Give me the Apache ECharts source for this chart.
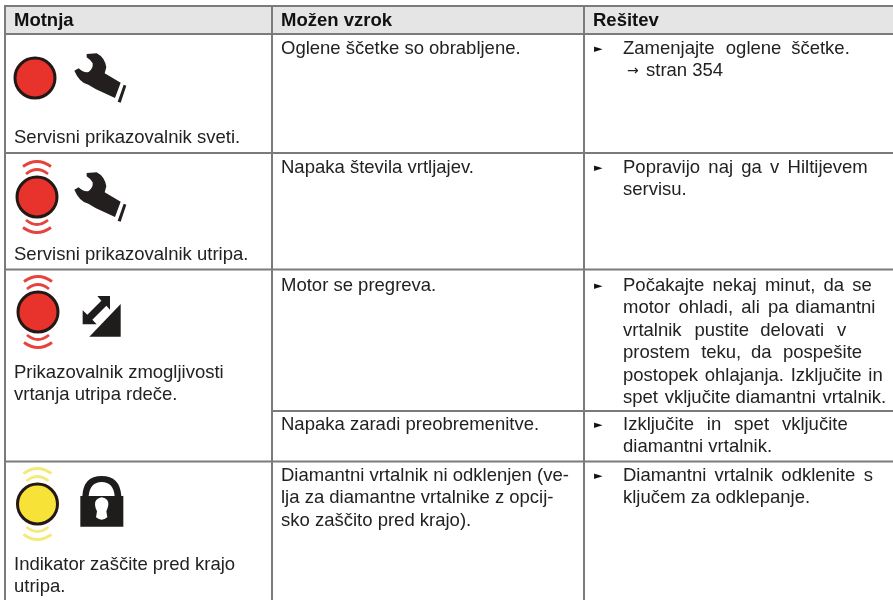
<!DOCTYPE html>
<html>
<head>
<meta charset="utf-8">
<style>
html,body{margin:0;padding:0;background:#fff}
#main{width:893px;height:600px}
</style>
<script src="https://cdn.jsdelivr.net/npm/echarts@6/dist/echarts.min.js"></script>
</head>
<body>
<div id="main"></div>
<script>
// table content
var headers = ['Motnja', 'Možen vzrok', 'Rešitev'];
var faultLines = [
  ['Servisni prikazovalnik sveti.'],
  ['Servisni prikazovalnik utripa.'],
  ['Prikazovalnik zmogljivosti', 'vrtanja utripa rdeče.'],
  ['Indikator zaščite pred krajo', 'utripa.']
];
var causeLines = [
  ['Oglene ščetke so obrabljene.'],
  ['Napaka števila vrtljajev.'],
  ['Motor se pregreva.'],
  ['Napaka zaradi preobremenitve.'],
  ['Diamantni vrtalnik ni odklenjen (ve-', 'lja za diamantne vrtalnike z opcij-', 'sko zaščito pred krajo).']
];
var fixLines = [
  ['Zamenjajte oglene ščetke.'],
  ['Popravijo naj ga v Hiltijevem', 'servisu.'],
  ['Počakajte nekaj minut, da se', 'motor ohladi, ali pa diamantni', 'vrtalnik pustite delovati v', 'prostem teku, da pospešite', 'postopek ohlajanja. Izključite in', 'spet vključite diamantni vrtalnik.'],
  ['Izključite in spet vključite', 'diamantni vrtalnik.'],
  ['Diamantni vrtalnik odklenite s', 'ključem za odklepanje.']
];
var pageRef = 'stran 354';

// layout
var colX = [5, 272, 584];
var rowY = [6, 34, 153, 269.5, 461.5];
var subRowY = 411;
var faultY = [138, 255, 373, 565];
var causeY = [49, 168, 286, 425, 476];
var fixY = [49, 168, 286, 425, 476];
var fixEnd = [[850], [868, null], [872, 876, 846, 862, 883, 886], [847, null], [873, null]];
var lineH = 22.4;
var font = '"Liberation Sans", Arial, sans-serif';
var fontSize = 18.5;
var ink = '#222222';
var rule = '#7b7b7b';

var ctx = document.createElement('canvas').getContext('2d');

// stretch the gaps of a justified line with hair spaces
function justify(line, width) {
  ctx.font = fontSize + 'px "Liberation Sans"';
  var words = line.split(' ');
  var extra = width - ctx.measureText(line).width;
  var hair = ctx.measureText('\u200a').width;
  if (words.length < 2 || extra <= 0 || !hair) return line;
  var out = words[0], used = 0;
  for (var i = 1; i < words.length; i++) {
    var want = Math.round(extra * i / (words.length - 1) / hair);
    out += ' ' + new Array(want - used + 1).join('\u200a') + words[i];
    used = want;
  }
  return out;
}

var els = [];
function line(x1, y1, x2, y2) {
  els.push({type: 'line', shape: {x1: x1, y1: y1, x2: x2, y2: y2}, style: {stroke: rule, lineWidth: 2}});
}
function txt(s, x, y, bold) {
  els.push({type: 'text', x: x, y: y, style: {
    text: s, fill: bold ? '#111111' : ink, font: (bold ? 'bold ' : '') + fontSize + 'px ' + font,
    textAlign: 'left', verticalAlign: 'middle'
  }});
}
// shape given in 3x coordinates
function glyph(d, x, y, fill, z) {
  els.push({type: 'path', x: x, y: y, scaleX: 1 / 3, scaleY: 1 / 3, z2: z || 1,
    shape: {pathData: d}, style: {fill: fill}});
}
function lamp(cx, cy, fill, band, blink) {
  els.push({type: 'circle', shape: {cx: cx, cy: cy, r: 20}, style: {fill: fill, stroke: '#231815', lineWidth: 3}});
  if (!blink) return;
  [[-30.5, -40.5], [-23, -32], [30.5, 40.5], [23, 32]].forEach(function (a) {
    var w = Math.abs(a[0]) > 25 ? 14 : 11;
    els.push({type: 'path', shape: {
      pathData: 'M' + (cx - w) + ' ' + (cy + a[0]) + 'Q' + cx + ' ' + (cy + a[1]) + ' ' + (cx + w) + ' ' + (cy + a[0])
    }, style: {fill: 'none', stroke: band, lineWidth: 2.8}});
  });
}

var wrench = 'M80 42L110 40Q134 52 139 82L134 100L182 128L165 174L108 148L85 134Q58 128 43 92L56 85Q72 100 86 96Q100 86 98 70Q90 58 80 52Z' +
  'M191 134L199 137L182 188L173 185Z';
var arrows = 'M330 348L292 348L304 362L262 404L248 391L248 433L290 433L277 419L319 377L330 389Z';
var wedge = 'M362 372L362 470L268 470Z';
var lock = 'M241 288L247 288Q250 228 305 228Q360 228 364 288L370 288L370 380L241 380Z';
var hoop = 'M266 288L344 288Q340 246 305 246Q270 246 266 288Z';
var keyhole = 'M305 292Q328 296 325 316Q322 328 319 334L322 352Q305 366 288 352L291 334Q286 326 285 314Q284 296 305 292Z';

// header band and rules
els.push({type: 'rect', shape: {x: 5, y: 6, width: 888, height: 28}, style: {fill: '#e5e5e5'}});
rowY.forEach(function (y) { line(5, y, 893, y); });
line(colX[1], subRowY, 893, subRowY);
colX.forEach(function (x) { line(x, 5, x, 600); });

var headX = [14, 281, 593];
headers.forEach(function (h, i) { txt(h, headX[i], 21, true); });

faultLines.forEach(function (ls, r) {
  ls.forEach(function (s, i) { txt(s, 14, faultY[r] + i * lineH); });
});
causeLines.forEach(function (ls, r) {
  ls.forEach(function (s, i) { txt(s, 281, causeY[r] + i * lineH); });
});
fixLines.forEach(function (ls, r) {
  els.push({type: 'text', x: 594, y: fixY[r], style: {text: '\u25ba', fill: '#111111',
    font: '11px "DejaVu Sans"', textAlign: 'left', verticalAlign: 'middle'}});
  ls.forEach(function (s, i) {
    var end = fixEnd[r][i];
    txt(end ? justify(s, end - 623) : s, 623, fixY[r] + i * lineH);
  });
});
els.push({type: 'text', x: 627, y: fixY[0] + lineH, style: {text: '\u2192', fill: ink,
  font: '14px "DejaVu Sans"', textAlign: 'left', verticalAlign: 'middle'}});
txt(pageRef, 646, fixY[0] + lineH);

// status icons
lamp(35, 78, '#e7332c', '#e5433c', false);
glyph(wrench, 60, 40, '#231f1f');
lamp(37, 197, '#e7332c', '#e5433c', true);
glyph(wrench, 60, 159, '#231f1f');
lamp(38, 312, '#e7332c', '#e5433c', true);
glyph(arrows, 0, 180, '#1f1c1c');
glyph(wedge, 0, 180, '#1f1c1c');
lamp(37.5, 504, '#f7e338', '#f4ea7c', true);
glyph(lock, 0, 400, '#1f1c1c');
glyph(hoop, 0, 400, '#ffffff', 2);
glyph(keyhole, 0, 400, '#ffffff', 2);

var myChart = echarts.init(document.getElementById('main'));
var option = {
  backgroundColor: '#ffffff',
  animation: false,
  series: [{
    type: 'custom',
    coordinateSystem: 'none',
    silent: true,
    data: [0],
    renderItem: function () {
      return {type: 'group', children: els};
    }
  }]
};
myChart.setOption(option);
</script>
</body>
</html>
